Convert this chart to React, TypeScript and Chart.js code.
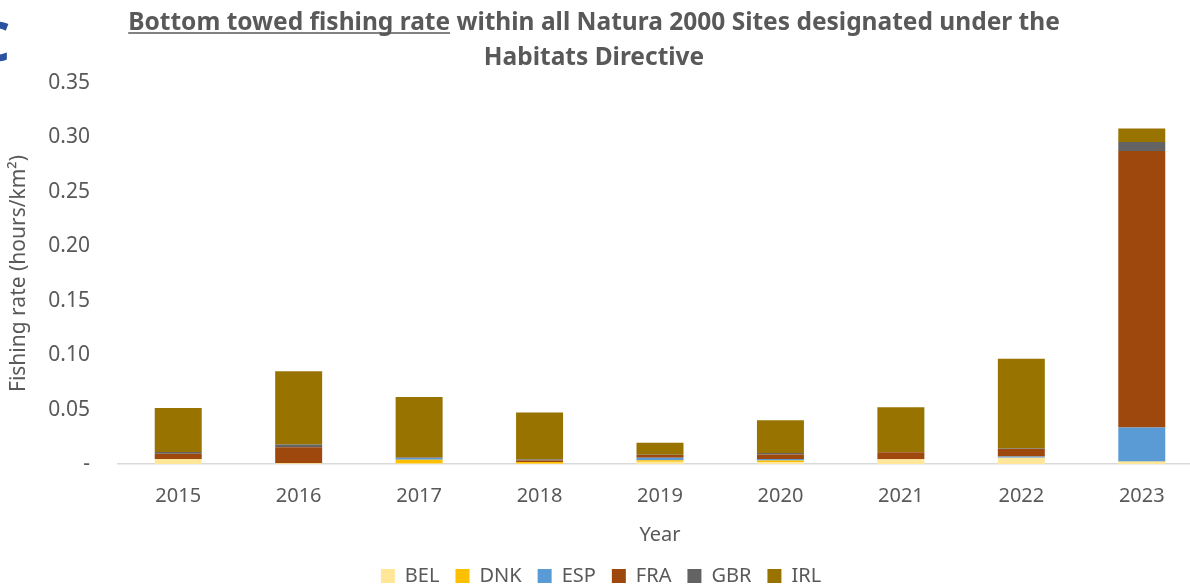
import React, { useEffect, useRef } from "react";
import { Chart, registerables } from "chart.js";

Chart.register(...registerables);

const years = ["2015", "2016", "2017", "2018", "2019", "2020", "2021", "2022", "2023"];
const BEL = [0.0045, 0.0008, 0.0005, 0.0003, 0.002, 0.0015, 0.0043, 0.0058, 0.002];
const DNK = [0, 0, 0.0035, 0.0015, 0.0015, 0.0018, 0, 0, 0.0003];
const ESP = [0, 0, 0.0015, 0, 0.0022, 0.0012, 0, 0.001, 0.0313];
const FRA = [0.005, 0.0147, 0.0003, 0.0015, 0.0025, 0.0043, 0.0065, 0.0069, 0.254];
const GBR = [0.0015, 0.0025, 0.0005, 0.0008, 0.0003, 0.0012, 0.0003, 0.0005, 0.0083];
const IRL = [0.0405, 0.0672, 0.0552, 0.0432, 0.011, 0.0302, 0.041, 0.0825, 0.0123];

const seriesNames = ["BEL", "DNK", "ESP", "FRA", "GBR", "IRL"];
const seriesColors = ["#FFE699", "#FFC000", "#5B9BD5", "#9E480E", "#636363", "#997300"];
const titleUnderlined = "Bottom towed fishing rate";
const titleRest = " within all Natura 2000 Sites designated under the";
const titleLine2 = "Habitats Directive";
const yTitle = "Fishing rate (hours/km²)";
const xTitle = "Year";

const TEXT = "#595959";
const FONT = "'Noto Sans', 'DejaVu Sans', sans-serif";

const titlePlugin = {
  id: "customTitle",
  afterDraw(chart: any) {
    const ctx = chart.ctx;
    ctx.save();
    ctx.fillStyle = TEXT;
    ctx.strokeStyle = TEXT;
    ctx.font = `bold 24.5px ${FONT}`;
    ctx.textBaseline = "alphabetic";
    ctx.textAlign = "left";
    const cx = 594;
    const w1 = ctx.measureText(titleUnderlined).width;
    const w2 = ctx.measureText(titleRest).width;
    const x0 = cx - (w1 + w2) / 2;
    const y1 = 30;
    ctx.fillText(titleUnderlined, x0, y1);
    ctx.fillText(titleRest, x0 + w1, y1);
    ctx.lineWidth = 1.6;
    ctx.beginPath();
    ctx.moveTo(x0, y1 + 3);
    ctx.lineTo(x0 + w1, y1 + 3);
    ctx.stroke();
    ctx.textAlign = "center";
    ctx.fillText(titleLine2, cx, 65);
    // partial blue panel letter cut off at the left edge
    ctx.fillStyle = "#2A52A0";
    ctx.font = `bold 53px ${FONT}`;
    ctx.textAlign = "left";
    const m = ctx.measureText("C");
    ctx.fillText("C", 9 - m.actualBoundingBoxRight, 61);
    ctx.restore();
  },
};

export default function App() {
  const ref = useRef<HTMLCanvasElement>(null);
  useEffect(() => {
    if (!ref.current) return;
    const datasets = seriesNames.map((name, i) => ({
      label: name,
      data: [BEL, DNK, ESP, FRA, GBR, IRL][i],
      backgroundColor: seriesColors[i],
      borderWidth: 0,
      barPercentage: 0.39,
      categoryPercentage: 1,
    }));
    const chart = new Chart(ref.current, {
      type: "bar",
      data: { labels: years, datasets },
      options: {
        animation: false,
        responsive: false,
        maintainAspectRatio: false,
        layout: { padding: { top: 83, left: 0, right: 0, bottom: 0 } },
        plugins: {
          legend: {
            position: "bottom",
            labels: {
              boxWidth: 14,
              boxHeight: 14,
              padding: 16,
              color: TEXT,
              font: { family: FONT, size: 20 },
            },
          },
          tooltip: { enabled: false },
        },
        scales: {
          x: {
            stacked: true,
            grid: { display: false, drawTicks: false },
            border: { display: true, color: "#D9D9D9", width: 1.5 },
            ticks: { color: TEXT, font: { family: FONT, size: 20 }, padding: 20 },
            title: {
              display: true,
              text: xTitle,
              color: TEXT,
              font: { family: FONT, size: 20 },
              padding: { top: 8, bottom: 3 },
            },
            afterFit(scale: any) {
              scale.height = 86;
            },
          },
          y: {
            stacked: true,
            min: 0,
            max: 0.35,
            grid: { display: false, drawTicks: false },
            border: { display: false },
            ticks: {
              stepSize: 0.05,
              color: TEXT,
              font: { family: FONT, size: 21 },
              padding: 28,
              callback: (v: any) => (Number(v) === 0 ? "-" : Number(v).toFixed(2)),
            },
            title: {
              display: true,
              text: yTitle,
              color: TEXT,
              font: { family: FONT, size: 21 },
              padding: { top: 6, bottom: 0 },
            },
            afterFit(scale: any) {
              scale.width = 118;
            },
          },
        },
      },
      plugins: [titlePlugin],
    });
    return () => chart.destroy();
  }, []);
  return (
    <div style={{ position: "fixed", left: 0, top: 0, width: 1190, height: 586, overflow: "hidden", background: "#fff" }}>
      <canvas ref={ref} width={1202} height={596} style={{ width: 1202, height: 596, display: "block" }} />
    </div>
  );
}
